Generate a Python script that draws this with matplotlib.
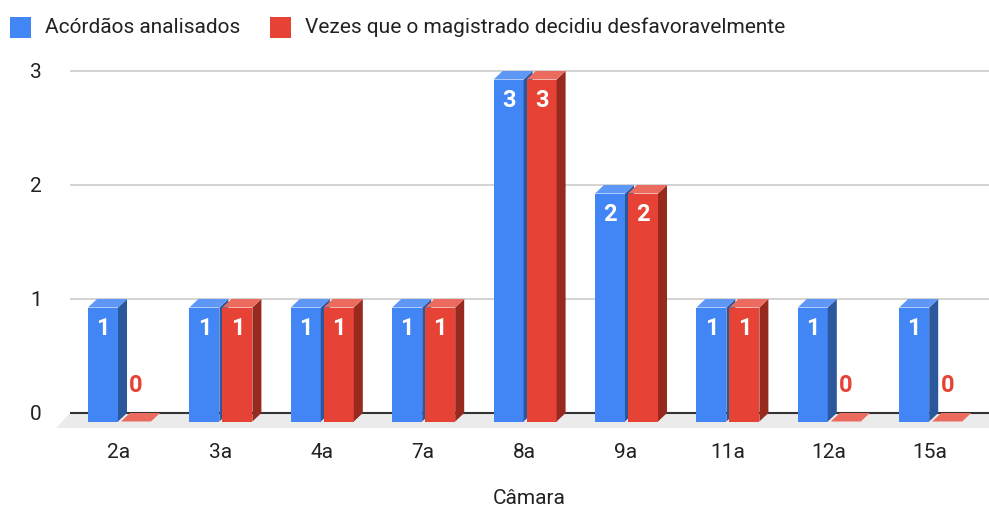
import numpy as np
import matplotlib.pyplot as plt
from matplotlib.patches import Rectangle

plt.rcParams['font.family'] = ['Roboto', 'DejaVu Sans']

camaras = ['2a', '3a', '4a', '7a', '8a', '9a', '11a', '12a', '15a']
acordaos = [1, 1, 1, 1, 3, 2, 1, 1, 1]
desfavoraveis = [0, 1, 1, 1, 3, 2, 1, 0, 0]
series_names = ['Acórdãos analisados',
                'Vezes que o magistrado decidiu desfavoravelmente']
y_ticks = [0, 1, 2, 3]

# colours: front, top, side
blue = ('#4285f4', '#5f97f6', '#2b579d')
red = ('#e64236', '#ec6b5f', '#98291f')
text_color = '#222222'

W, H = 989, 509
fig = plt.figure(figsize=(W / 100, H / 100), dpi=100)
# axes box in pixels: left 50, right 989, top 50, bottom 440
ax = fig.add_axes([50 / W, (H - 440) / H, 939 / W, 390 / H])
px_x = 101.4   # pixels per category
px_y = 114.0   # pixels per value unit
ax.set_xlim(-69 / px_x, 870 / px_x)
ax.set_ylim(-27 / px_y, 363 / px_y)
for s in ax.spines.values():
    s.set_visible(False)

# depth of the 3d effect
dx = 9 / px_x
dy = 8.5 / px_y
bar_w = 30 / px_x
x_right = ax.get_xlim()[1]
x_grid0 = -49 / px_x

# floor
fdx, fdy = 14 / px_x, 14.5 / px_y
ax.fill([x_grid0, x_right + 1, x_right + 1, x_grid0 - fdx],
        [0, 0, -fdy, -fdy], color='#ebebeb', lw=0, zorder=1)

# gridlines
for v in y_ticks[1:]:
    ax.hlines(v, x_grid0, x_right, color='#cccccc', lw=1.2, zorder=1.5)
ax.hlines(0, x_grid0, x_right, color='#333333', lw=1.5, zorder=2)


def bar3d(xl, v, cols):
    front, top, side = cols
    if v > 0:
        ax.fill([xl, xl + bar_w, xl + bar_w, xl], [-dy, -dy, v - dy, v - dy],
                color=front, lw=0, zorder=3)
        ax.fill([xl + bar_w, xl + bar_w + dx, xl + bar_w + dx, xl + bar_w],
                [-dy, 0, v, v - dy], color=side, lw=0, zorder=3)
    ax.fill([xl, xl + bar_w, xl + bar_w + dx, xl + dx], [v - dy, v - dy, v, v],
            color=top, lw=0, zorder=3)


def bar_label(xl, v, col):
    xc = xl + bar_w / 2
    if v > 0:
        ax.text(xc, v - dy - 21 / px_y, str(v), color='white', fontsize=17,
                fontweight='bold', ha='center', va='center', zorder=4)
    else:
        ax.text(xc, 27 / px_y, str(v), color=col, fontsize=17,
                fontweight='bold', ha='center', va='center', zorder=4)


x = np.arange(len(camaras))
for i, v in enumerate(acordaos):
    bar3d(x[i] - 31 / px_x, v, blue)
for i, v in enumerate(desfavoraveis):
    bar3d(x[i] + 2 / px_x, v, red)
for i, v in enumerate(acordaos):
    bar_label(x[i] - 31 / px_x, v, blue[0])
for i, v in enumerate(desfavoraveis):
    bar_label(x[i] + 2 / px_x, v, red[0])

ax.set_xticks(x, camaras)
ax.set_yticks(y_ticks, [str(t) for t in y_ticks])
ax.tick_params(axis='x', length=0, pad=2, labelsize=15, labelcolor=text_color)
ax.tick_params(axis='y', length=0, pad=6, labelsize=15, labelcolor=text_color)

fig.text(529 / W, 1 - 499 / H, 'Câmara', ha='center', va='center',
         fontsize=15, color=text_color)

# legend
for sx, tx, cols, name in [(10, 45, blue, series_names[0]),
                           (270, 305, red, series_names[1])]:
    fig.add_artist(Rectangle((sx / W, 1 - 38 / H), 21 / W, 21 / H,
                             transform=fig.transFigure, color=cols[0], lw=0))
    fig.text(tx / W, 1 - 27.5 / H, name, ha='left', va='center',
             fontsize=15, color=text_color)

fig.savefig('out.png', dpi=100, facecolor='white')
